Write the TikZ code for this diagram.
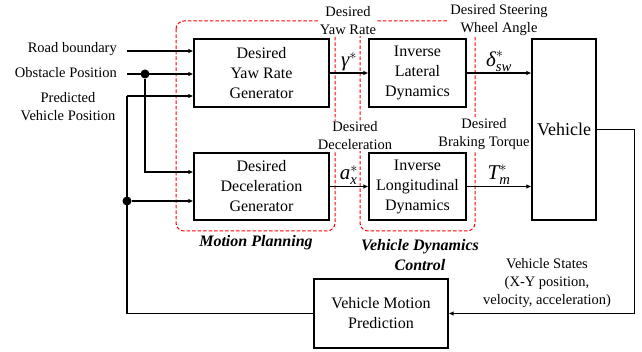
\documentclass[tikz,border=0pt]{standalone}
\usepackage{fontspec}
\setmainfont{Liberation Serif}
\usepackage{amsmath}
\usetikzlibrary{arrows.meta, calc}
\newcommand{\tvar}[1]{\text{\itshape #1}}

\begin{document}
\begin{tikzpicture}[x=1pt, y=-1pt,
  blk/.style={draw, line width=1.1pt, inner sep=0pt, align=center, font=\fontsize{16}{20}\selectfont},
  lbl/.style={align=center, inner sep=1pt, font=\fontsize{14.5}{18}\selectfont},
  arr/.style={line width=1.2pt, -{Latex[length=5pt,width=4.5pt]}},
  wire/.style={line width=1.2pt},
  grp/.style={draw=red, dash pattern=on 3.5pt off 2pt, line width=1pt, rounded corners=8pt},
  grpname/.style={align=center, font=\fontsize{16}{20}\selectfont\bfseries\itshape},
  sym/.style={font=\fontsize{21}{22}\selectfont, inner sep=1pt},
  dot/.style={circle, fill, inner sep=0pt, minimum size=9pt}]
\useasboundingbox (0,0) rectangle (642,352);

% dashed groups
\draw[grp] (176,21) rectangle (335,231);  % motion planning
\draw[grp] (360,21) rectangle (475,231);  % dynamics control

% signal names (white, over the dashes)
\node[lbl, fill=white] (yawtxt) at (348,21) {Desired\\Yaw Rate};
\node[lbl, fill=white] (swatxt) at (499,20) {Desired Steering\\Wheel Angle};
\node[lbl, fill=white] (dectxt) at (355,136) {Desired\\Deceleration};
\node[lbl, fill=white] (brktxt) at (484,134) {Desired\\Braking Torque};

% blocks
\node[blk, minimum width=135pt, minimum height=68pt] (yaw) at (261.5,73) {Desired\\Yaw Rate\\Generator};
\node[blk, minimum width=135pt, minimum height=67pt] (dec) at (261.5,186.5) {Desired\\Deceleration\\Generator};
\node[blk, minimum width=97pt, minimum height=68pt] (ilat) at (417.5,73) {Inverse\\Lateral\\Dynamics};
\node[blk, minimum width=97pt, minimum height=67pt] (ilon) at (417.5,186.5) {Inverse\\Longitudinal\\Dynamics};
\node[blk, minimum width=64pt, minimum height=181pt, font=\fontsize{18}{20}\selectfont] (veh) at (564,129.5) {Vehicle};
\node[blk, minimum width=134pt, minimum height=69pt] (vmp) at (381,313.5) {Vehicle Motion\\Prediction};

% group names
\node[grpname] (mp) at (256,243) {Motion Planning};
\node[grpname] (vdc) at (420,255) {Vehicle Dynamics\\Control};

% inputs
\node[lbl, anchor=east] (rbtxt) at (118,49) {Road boundary};
\node[lbl, anchor=east] (obtxt) at (118,73) {Obstacle Position};
\node[lbl] (pvtxt) at (68,107) {Predicted\\Vehicle Position};
\coordinate (rb) at (127,51);
\coordinate (ob) at (127,74);
\coordinate (pv) at (127,96);
\node[dot] (j1) at (145,74) {};
\node[dot] (j2) at (127,201) {};
\draw[arr] (rb) -- (rb -| yaw.west);
\draw[arr] (ob) -- (ob -| yaw.west);
\draw[arr] (pv) -- (pv -| yaw.west);
\draw[arr] (j1) |- ($(dec.west)+(0,-14.5)$);
\draw[arr] (j2) -- (j2 -| dec.west);
\draw[wire] (pv) |- (vmp.west);

% signals
\draw[arr] (yaw) -- node[sym, midway, above] {$\tvar{γ}^{*}$} (ilat);
\draw[arr] (dec) -- node[sym, midway, above] {$\tvar{a}_{\tvar{x}}^{*}$} (ilon);
\draw[arr] (ilat.east) -- node[sym, midway, above] {$\tvar{δ}_{\tvar{sw}}^{*}$} (ilat.east -| veh.west);
\draw[arr] (ilon.east) -- node[sym, midway, above] {$\tvar{T}_{\tvar{m}}^{*}$} (ilon.east -| veh.west);

% feedback
\draw[arr] (veh.east) -- ++(38,0) |- (vmp.east);
\node[lbl] (vstxt) at (547,283) {Vehicle States\\(X-Y position,\\velocity, acceleration)};
\end{tikzpicture}
\end{document}
